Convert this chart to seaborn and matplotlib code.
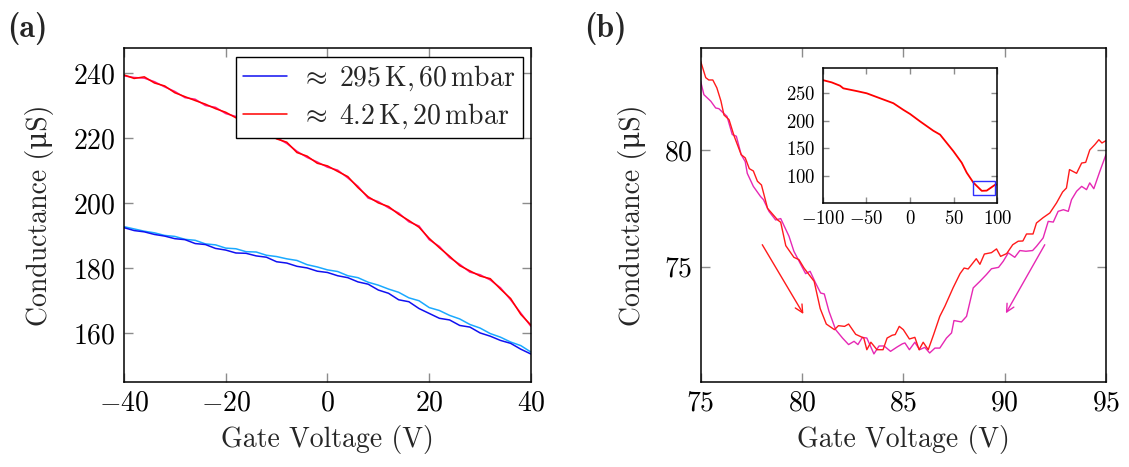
import matplotlib
matplotlib.use("Agg")
import matplotlib.pyplot as plt
import matplotlib.patches as mpatches
import numpy as np
import pandas as pd
import seaborn as sns

# ---------------- data: panel (a) ----------------
vg_a = [-40, -38, -36, -34, -32, -30, -28, -26, -24, -22, -20, -18, -16, -14, -12, -10,
        -8, -6, -4, -2, 0, 2, 4, 6, 8, 10, 12, 14, 16, 18, 20, 22, 24, 26, 28, 30,
        32, 34, 36, 38, 40]
g_295_up = [192.5, 191.6, 191.2, 190.4, 189.9, 189.1, 188.8, 187.6, 187.3, 186.1, 185.6,
            184.7, 184.6, 183.8, 183.4, 182.0, 181.6, 180.6, 180.1, 179.1, 178.7, 177.7,
            177.1, 175.8, 175.1, 173.3, 172.3, 170.3, 169.7, 167.6, 166.1, 164.6, 164.1,
            162.4, 161.9, 160.1, 159.1, 157.8, 156.9, 155.1, 153.6]
g_295_down = [192.8, 192.1, 191.4, 190.9, 190.1, 189.8, 188.9, 188.6, 187.5, 187.2, 186.2,
              186.0, 185.1, 185.0, 184.0, 183.6, 182.9, 182.4, 181.1, 180.4, 179.5, 179.0,
              177.7, 177.1, 175.7, 174.8, 173.6, 172.6, 170.9, 170.0, 167.9, 167.0, 165.5,
              164.4, 162.7, 161.6, 159.9, 158.8, 157.3, 156.2, 154.2]
g_42_up = [239.5, 238.4, 238.9, 237.0, 236.1, 234.0, 232.8, 231.6, 230.5, 229.1, 228.0,
           226.3, 225.4, 223.4, 222.0, 219.8, 218.8, 215.6, 214.5, 212.3, 211.5, 209.8,
           208.2, 204.8, 202.0, 200.1, 199.0, 196.6, 194.7, 192.6, 189.2, 186.3, 183.7,
           180.8, 179.2, 177.6, 176.8, 173.6, 170.7, 165.8, 162.5]
g_42_down = [239.2, 238.7, 238.5, 237.4, 235.8, 234.4, 232.5, 232.0, 230.1, 229.5, 227.6,
             226.7, 225.0, 223.8, 221.6, 220.2, 218.4, 216.0, 214.1, 212.7, 211.1, 210.2,
             207.8, 205.2, 201.6, 200.5, 198.6, 197.0, 194.3, 193.0, 188.8, 186.7, 183.3,
             181.2, 178.8, 178.0, 176.4, 174.0, 170.3, 166.2, 162.1]
legend_labels = [r"$\approx\;295\,\mathrm{K}, 60\,\mathrm{mbar}$",
                 r"$\approx\;4.2\,\mathrm{K}, 20\,\mathrm{mbar}$"]

# ---------------- data: panel (b) ----------------
vg_b_red = [75.0, 75.25, 75.4, 75.6, 75.8, 76.0, 76.15, 76.4, 76.65, 77.0, 77.2, 77.4, 77.6,
            77.8, 78.0, 78.3, 78.8, 78.95, 79.2, 79.6, 79.85, 80.1, 80.6, 80.9, 81.2, 81.6,
            81.8, 82.1, 82.3, 82.65, 83.05, 83.2, 83.4, 83.7, 84.0, 84.2, 84.45, 84.6, 84.8,
            85.0, 85.3, 85.57, 85.78, 85.98, 86.23, 86.5, 86.8, 87.05, 87.46, 87.8, 88.0,
            88.2, 88.6, 88.78, 89.0, 89.35, 89.6, 89.8, 90.1, 90.4, 90.67, 90.9, 91.08, 91.4,
            91.57, 91.9, 92.23, 92.56, 92.86, 93.05, 93.2, 93.55, 93.8, 94.0, 94.2, 94.45,
            94.65, 94.8, 95.0]
g_b_red = [83.8, 83.1, 83.0, 83.0, 82.66, 82.1, 81.5, 81.3, 80.6, 79.8, 79.66, 79.2, 79.1,
           78.66, 78.5, 77.5, 77.0, 76.9, 75.9, 75.4, 75.3, 74.94, 74.37, 73.2, 72.54, 72.3,
           72.47, 72.44, 72.54, 72.1, 71.94, 71.44, 71.76, 71.44, 71.44, 71.94, 72.06, 72.09,
           72.44, 72.3, 71.9, 71.97, 71.44, 71.76, 71.44, 72.1, 72.87, 73.3, 74.1, 74.7,
           74.94, 74.9, 75.34, 75.1, 75.54, 75.6, 75.76, 75.44, 75.56, 75.94, 76.09, 76.1,
           76.4, 76.4, 76.87, 77.1, 77.3, 77.73, 78.2, 78.37, 79.16, 79.0, 79.44, 79.47,
           80.0, 80.23, 80.44, 80.3, 80.4]
vg_b_mag = [75.0, 75.16, 75.5, 75.74, 75.9, 76.1, 76.3, 76.56, 76.76, 77.0, 77.2, 77.3, 77.6,
            77.96, 78.1, 78.37, 78.7, 78.95, 79.36, 79.6, 79.93, 80.18, 80.4, 80.67, 80.92,
            81.1, 81.33, 81.66, 82.0, 82.3, 82.57, 82.76, 82.98, 83.2, 83.55, 83.8, 84.05,
            84.37, 84.7, 84.95, 85.08, 85.3, 85.57, 85.8, 86.06, 86.3, 86.56, 86.8, 87.13,
            87.38, 87.5, 87.87, 88.12, 88.45, 88.78, 89.1, 89.35, 89.7, 89.93, 90.18, 90.5,
            90.75, 91.05, 91.38, 91.57, 91.9, 92.15, 92.4, 92.64, 92.9, 93.14, 93.3, 93.55,
            93.8, 94.04, 94.2, 94.4, 94.7, 95.0]
g_b_mag = [82.94, 82.37, 82.09, 81.8, 81.77, 81.6, 81.44, 80.66, 80.59, 79.8, 79.5, 79.0,
           78.44, 78.0, 77.87, 77.37, 77.0, 77.06, 76.3, 75.66, 75.11, 74.7, 74.8, 74.3,
           73.87, 73.83, 73.09, 72.3, 71.94, 71.66, 71.8, 71.66, 71.97, 71.94, 71.26, 71.6,
           71.6, 71.37, 71.56, 71.69, 71.73, 71.44, 71.76, 71.44, 71.54, 71.3, 71.51, 71.51,
           71.94, 72.16, 72.69, 72.63, 72.87, 74.09, 74.37, 74.66, 74.91, 74.97, 75.23,
           75.59, 75.4, 75.69, 75.66, 75.69, 75.87, 76.23, 76.94, 76.91, 77.37, 77.44,
           77.37, 77.87, 78.23, 78.44, 78.3, 78.59, 78.34, 79.09, 79.8]
# sweep-direction arrows: (x_start, y_start, x_end, y_end)
arrow_red = [78.04, 75.94, 80.07, 72.97]
arrow_mag = [91.98, 75.94, 90.06, 73.0]

# ---------------- data: inset ----------------
vg_inset = [-100, -89.7, -80.2, -76.4, -61, -49.6, -34.4, -19.1, -7.7, 0, 11.5, 26.7,
            34.4, 49.6, 59.2, 64.9, 72.5, 82.1, 87.8, 97.4, 100]
g_inset = [274, 269.8, 263.8, 259, 254, 250, 241, 232, 220, 212.5, 199, 182, 175, 145,
           124, 106, 88, 73, 73.4, 84, 84.6]
zoom_box = [72, 97, 66, 91]  # x0, x1, y0, y1

# ---------------- style ----------------
sns.set_theme(style="ticks")
plt.rcParams["font.family"] = ["cmr10", "DejaVu Serif"]
plt.rcParams["mathtext.fontset"] = "cm"
plt.rcParams["axes.formatter.use_mathtext"] = True
plt.rcParams["axes.unicode_minus"] = True

FS = 20
FS_IN = 13.5
TICKC = "#8c8c8c"

fig = plt.figure(figsize=(11.29, 4.67), dpi=100)
ax_a = fig.add_axes([0.1098, 0.1827, 0.3605, 0.714])
ax_b = fig.add_axes([0.6206, 0.1827, 0.3590, 0.714])
ax_in = fig.add_axes([0.7287, 0.5647, 0.1547, 0.2891])


def style_axes(ax, fs, tl=6.5):
    for s in ax.spines.values():
        s.set_color("black")
        s.set_linewidth(1.1)
    ax.tick_params(direction="in", top=True, right=True, length=tl, width=1.0,
                   color=TICKC, labelsize=fs, labelcolor="black", pad=6)
    ax.grid(False)
    ax.set_facecolor("white")


# panel (a)
df_a = pd.DataFrame({"vg": vg_a, "u295": g_295_up, "d295": g_295_down,
                     "u42": g_42_up, "d42": g_42_down})
sns.lineplot(data=df_a, x="vg", y="d295", ax=ax_a, color="#1aa9ff", lw=1.1,
             estimator=None, sort=False)
sns.lineplot(data=df_a, x="vg", y="u295", ax=ax_a, color="#1010f0", lw=1.1,
             estimator=None, sort=False, label=legend_labels[0])
sns.lineplot(data=df_a, x="vg", y="d42", ax=ax_a, color="#ff1a8c", lw=1.1,
             estimator=None, sort=False)
sns.lineplot(data=df_a, x="vg", y="u42", ax=ax_a, color="#ff0000", lw=1.1,
             estimator=None, sort=False, label=legend_labels[1])
ax_a.set_xlim(-40, 40)
ax_a.set_ylim(145.1, 247.7)
ax_a.set_xticks([-40, -20, 0, 20, 40])
ax_a.set_yticks([160, 180, 200, 220, 240])
style_axes(ax_a, FS)
ax_a.set_xlabel("Gate Voltage (V)", fontsize=FS, labelpad=6)
ax_a.set_ylabel("Conductance (μS)", fontsize=FS, labelpad=14)
leg = ax_a.legend(loc="upper right", fontsize=20, frameon=True, fancybox=False,
                  edgecolor="black", framealpha=1, handlelength=1.6,
                  borderpad=0.25, labelspacing=0.32, handletextpad=0.5,
                  borderaxespad=0.3)
leg.get_frame().set_linewidth(1.0)

# panel (b)
df_r = pd.DataFrame({"vg": vg_b_red, "g": g_b_red})
df_m = pd.DataFrame({"vg": vg_b_mag, "g": g_b_mag})
sns.lineplot(data=df_m, x="vg", y="g", ax=ax_b, color="#e628b4", lw=1.0,
             estimator=None, sort=False)
sns.lineplot(data=df_r, x="vg", y="g", ax=ax_b, color="#ff1a1a", lw=1.0,
             estimator=None, sort=False)
for arr, col in ((arrow_red, "#ff1a1a"), (arrow_mag, "#e628b4")):
    ax_b.annotate("", xy=(arr[2], arr[3]), xytext=(arr[0], arr[1]),
                  arrowprops=dict(arrowstyle="->", color=col, lw=1.0,
                                  shrinkA=0, shrinkB=0, mutation_scale=14))
ax_b.set_xlim(75, 95)
ax_b.set_ylim(70.07, 84.36)
ax_b.set_xticks([75, 80, 85, 90, 95])
ax_b.set_yticks([75, 80])
style_axes(ax_b, FS)
ax_b.set_xlabel("Gate Voltage (V)", fontsize=FS, labelpad=6)
ax_b.set_ylabel("Conductance (μS)", fontsize=FS, labelpad=12)

# inset
df_in = pd.DataFrame({"vg": vg_inset, "g": g_inset})
sns.lineplot(data=df_in, x="vg", y="g", ax=ax_in, color="#ff0000", lw=1.3,
             estimator=None, sort=False)
ax_in.add_patch(mpatches.Rectangle((zoom_box[0], zoom_box[2]),
                                   zoom_box[1] - zoom_box[0], zoom_box[3] - zoom_box[2],
                                   fill=False, edgecolor="#3030ff", lw=1.0, zorder=5))
ax_in.set_xlim(-100, 100)
ax_in.set_ylim(50.4, 295.4)
ax_in.set_xticks([-100, -50, 0, 50, 100])
ax_in.set_yticks([100, 150, 200, 250])
style_axes(ax_in, FS_IN, tl=4.5)
ax_in.tick_params(pad=5)
ax_in.set_xlabel("")
ax_in.set_ylabel("")

# panel letters
fig.text(0.006, 0.975, "(a)", fontsize=23, family="cmb10", va="top", ha="left")
fig.text(0.517, 0.975, "(b)", fontsize=23, family="cmb10", va="top", ha="left")

fig.savefig("out.png", dpi=100)
